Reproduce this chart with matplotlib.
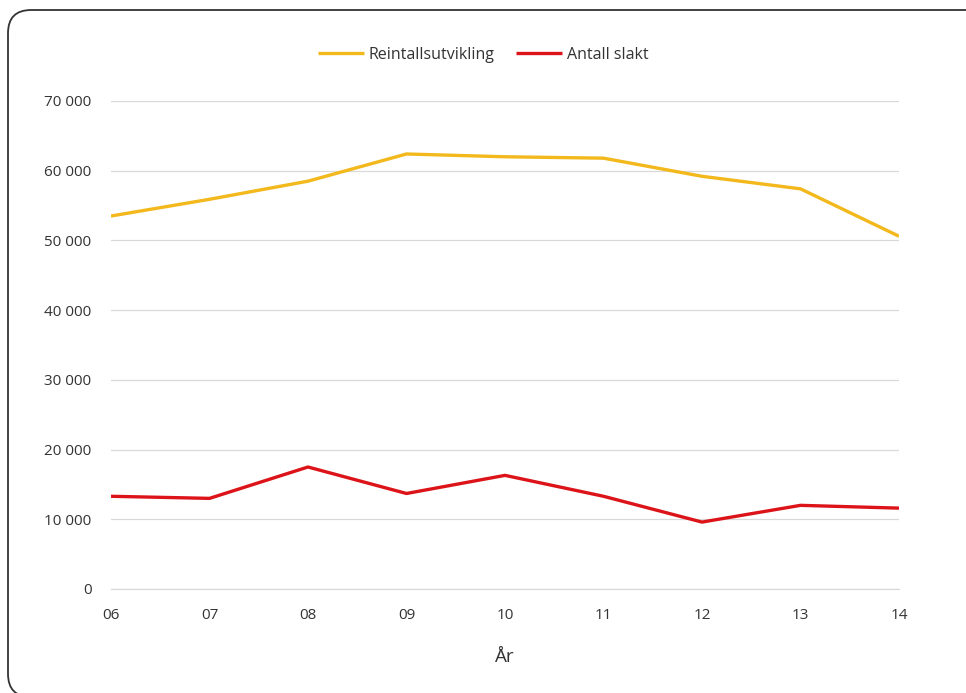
import matplotlib.pyplot as plt
from matplotlib.patches import FancyBboxPatch
from matplotlib.ticker import FuncFormatter

years = ['06', '07', '08', '09', '10', '11', '12', '13', '14']
reintall = [53500, 55900, 58500, 62400, 62000, 61800, 59200, 57400, 50600]
slakt = [13300, 13000, 17500, 13700, 16300, 13300, 9600, 12000, 11600]

plt.rcParams['font.family'] = ['Open Sans', 'DejaVu Sans']

fig = plt.figure(figsize=(9.66, 6.93), dpi=100)

# rounded frame around the chart area (runs off the right and bottom edges)
frame = FancyBboxPatch((8/966, -4/693), 1.2, (693-10+4)/693,
                       boxstyle='round,pad=0,rounding_size=0.024',
                       transform=fig.transFigure, facecolor='white',
                       edgecolor='#333333', linewidth=1.3, mutation_aspect=966/693,
                       zorder=-5)
fig.add_artist(frame)

ax = fig.add_axes([111/966, 104/693, 788/966, 488/693], zorder=2)
ax.set_facecolor('none')
x = list(range(len(years)))
ax.plot(x, reintall, color='#f2b81c', linewidth=2.4, label='Reintallsutvikling',
        solid_capstyle='butt')
ax.plot(x, slakt, color='#dc1419', linewidth=2.4, label='Antall slakt',
        solid_capstyle='butt')

ax.set_xlim(0, len(years) - 1)
ax.set_ylim(0, 70000)
ax.set_xticks(x)
ax.set_xticklabels(years)
ax.set_yticks(range(0, 70001, 10000))
ax.yaxis.set_major_formatter(FuncFormatter(lambda v, p: f'{int(v):,}'.replace(',', ' ')))
ax.grid(axis='y', color='#d9d9d9', linewidth=0.9)
ax.set_axisbelow(True)
for s in ax.spines.values():
    s.set_visible(False)
ax.spines['bottom'].set_visible(True)
ax.spines['bottom'].set_color('#d9d9d9')
ax.spines['bottom'].set_linewidth(0.9)
ax.tick_params(length=0, labelsize=11, colors='#333333')
ax.tick_params(axis='y', pad=14)
ax.tick_params(axis='x', pad=14)
ax.set_xlabel('År', fontsize=13.5, color='#333333', labelpad=18)

leg = fig.legend(loc='center', ncol=2, frameon=False,
                 fontsize=11.5, handlelength=2.9, columnspacing=1.3, handletextpad=0.3,
                 labelcolor='#333333')
leg.set_bbox_to_anchor((0.5, 1 - 55/693), transform=fig.transFigure)

fig.savefig('out.png', dpi=100)
